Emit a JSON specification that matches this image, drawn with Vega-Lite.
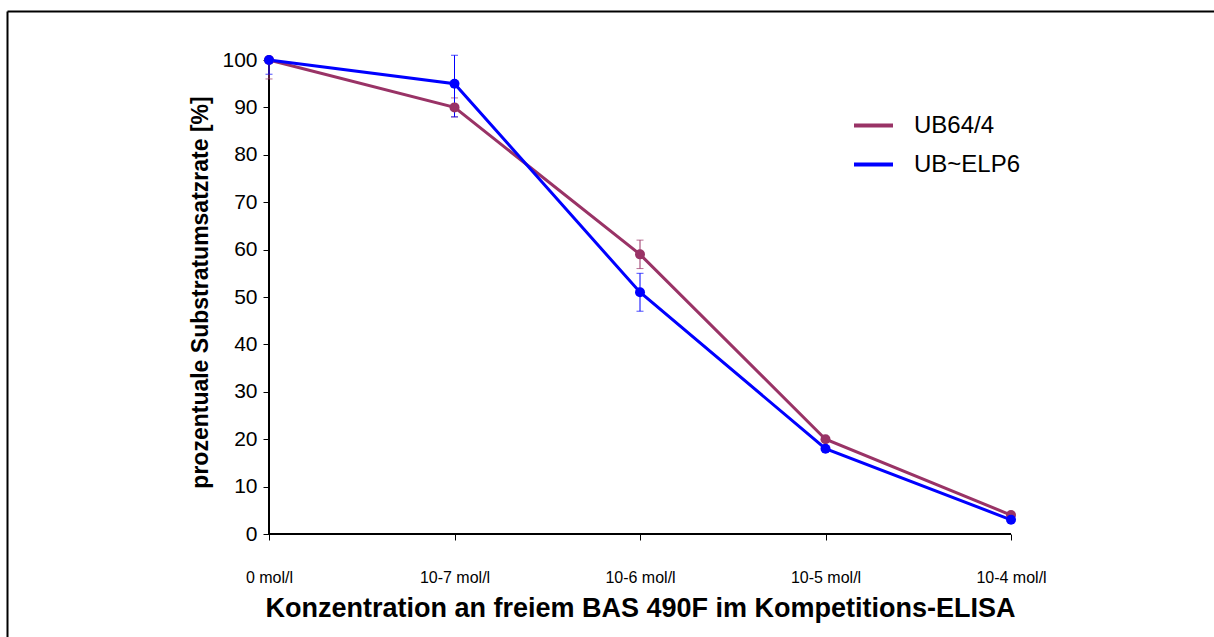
{
  "$schema": "https://vega.github.io/schema/vega-lite/v6.json",
  "width": 1207,
  "height": 626,
  "autosize": {"type": "none"},
  "padding": {"left": 7, "top": 11, "right": 0, "bottom": 0},
  "background": "white",
  "config": {
    "view": {"stroke": "transparent"},
    "font": "Liberation Sans",
    "axis": {"grid": false}
  },
  "data": {
    "values": [
      {"series": "UB64/4", "idx": 0, "conc": "0 mol/l", "value": 100, "lo": 96, "hi": 100},
      {"series": "UB64/4", "idx": 1, "conc": "10-7 mol/l", "value": 90, "lo": 88, "hi": 92},
      {"series": "UB64/4", "idx": 2, "conc": "10-6 mol/l", "value": 59, "lo": 56, "hi": 62},
      {"series": "UB64/4", "idx": 3, "conc": "10-5 mol/l", "value": 20, "lo": 20, "hi": 20},
      {"series": "UB64/4", "idx": 4, "conc": "10-4 mol/l", "value": 4, "lo": 4, "hi": 4},
      {"series": "UB~ELP6", "idx": 0, "conc": "0 mol/l", "value": 100, "lo": 97, "hi": 100},
      {"series": "UB~ELP6", "idx": 1, "conc": "10-7 mol/l", "value": 95, "lo": 88, "hi": 101},
      {"series": "UB~ELP6", "idx": 2, "conc": "10-6 mol/l", "value": 51, "lo": 47, "hi": 55},
      {"series": "UB~ELP6", "idx": 3, "conc": "10-5 mol/l", "value": 18, "lo": 18, "hi": 18},
      {"series": "UB~ELP6", "idx": 4, "conc": "10-4 mol/l", "value": 3, "lo": 3, "hi": 3}
    ]
  },
  "resolve": {"axis": {"x": "independent", "y": "independent"}},
  "layer": [
    {
      "mark": {"type": "point", "opacity": 0},
      "encoding": {
        "x": {
          "field": "idx", "type": "quantitative",
          "scale": {"domain": [-1.4124, 5.0943], "nice": false, "zero": false},
          "axis": {"orient": "top", "offset": 0, "domain": true, "domainColor": "black", "domainWidth": 2, "ticks": false, "labels": false, "title": null}
        },
        "y": {
          "field": "value", "type": "quantitative",
          "scale": {"domain": [-21.73, 110.338], "nice": false, "zero": false},
          "axis": {"orient": "left", "offset": 0, "domain": true, "domainColor": "black", "domainWidth": 2, "ticks": false, "labels": false, "title": null}
        }
      }
    },
    {
      "mark": {"type": "rule", "color": "black", "strokeWidth": 1},
      "encoding": {
        "x": {"datum": 0, "type": "quantitative", "axis": null},
        "y": {"datum": 0, "type": "quantitative", "axis": null},
        "y2": {"datum": 100}
      }
    },
    {
      "mark": {"type": "rule", "color": "black", "strokeWidth": 1},
      "encoding": {
        "x": {"datum": 0, "type": "quantitative", "axis": null},
        "x2": {"datum": 4},
        "y": {"datum": 0, "type": "quantitative", "axis": null}
      }
    },
    {
      "mark": {"type": "errorbar", "ticks": {"size": 7, "thickness": 1}, "rule": {"strokeWidth": 1}},
      "encoding": {
        "x": {"field": "idx", "type": "quantitative", "axis": null},
        "y": {"field": "lo", "type": "quantitative", "axis": null},
        "y2": {"field": "hi"},
        "color": {"field": "series", "type": "nominal"}
      }
    },
    {
      "mark": {"type": "line", "strokeWidth": 3},
      "encoding": {
        "x": {
          "field": "idx", "type": "quantitative",
          "axis": {
            "orient": "bottom", "offset": -103, "domain": false,
            "values": [0, 1, 2, 3, 4],
            "labelExpr": "['0 mol/l', '10-7 mol/l', '10-6 mol/l', '10-5 mol/l', '10-4 mol/l'][datum.value]",
            "ticks": true, "tickSize": 6, "tickColor": "black", "tickWidth": 1,
            "labelAngle": 0, "labelFont": "Liberation Sans", "labelFontSize": 16, "labelColor": "black", "labelPadding": 29, "labelFlush": false,
            "title": "Konzentration an freiem BAS 490F  im Kompetitions-ELISA",
            "titleFont": "Liberation Sans", "titleFontSize": 27, "titleFontWeight": "bold", "titleColor": "black",
            "titleX": 633, "titleY": 74, "titleBaseline": "middle", "titleAlign": "center"
          }
        },
        "y": {
          "field": "value", "type": "quantitative",
          "axis": {
            "orient": "left", "offset": -262, "domain": false,
            "values": [0, 10, 20, 30, 40, 50, 60, 70, 80, 90, 100],
            "ticks": true, "tickSize": 6, "tickColor": "black", "tickWidth": 1,
            "labelFontSize": 21, "labelColor": "black", "labelPadding": 6,
            "title": "prozentuale Substratumsatzrate [%]",
            "titleFontSize": 23, "titleFontWeight": "bold", "titleColor": "black",
            "titleX": -69, "titleY": 281, "titleBaseline": "middle", "titleAlign": "center", "titleAngle": -90
          }
        },
        "color": {
          "field": "series", "type": "nominal",
          "scale": {"domain": ["UB64/4", "UB~ELP6"], "range": ["#993366", "#0000ff"]},
          "legend": {
            "orient": "none", "legendX": 845, "legendY": 93, "title": null, "padding": 0,
            "symbolType": "stroke", "symbolSize": 1521, "symbolStrokeWidth": 4, "symbolOpacity": 1,
            "labelFontSize": 24, "labelColor": "black", "labelOffset": 19, "rowPadding": 5,
            "encode": {"symbols": {"update": {"stroke": {"signal": "datum.value === 'UB64/4' ? '#800000' : '#0000ff'"}, "opacity": {"value": 1}, "strokeOpacity": {"value": 1}}}}
          }
        }
      }
    },
    {
      "mark": {"type": "point", "filled": true, "opacity": 1, "size": 100},
      "encoding": {
        "x": {"field": "idx", "type": "quantitative", "axis": null},
        "y": {"field": "value", "type": "quantitative", "axis": null},
        "color": {"field": "series", "type": "nominal"}
      }
    }
  ]
}
